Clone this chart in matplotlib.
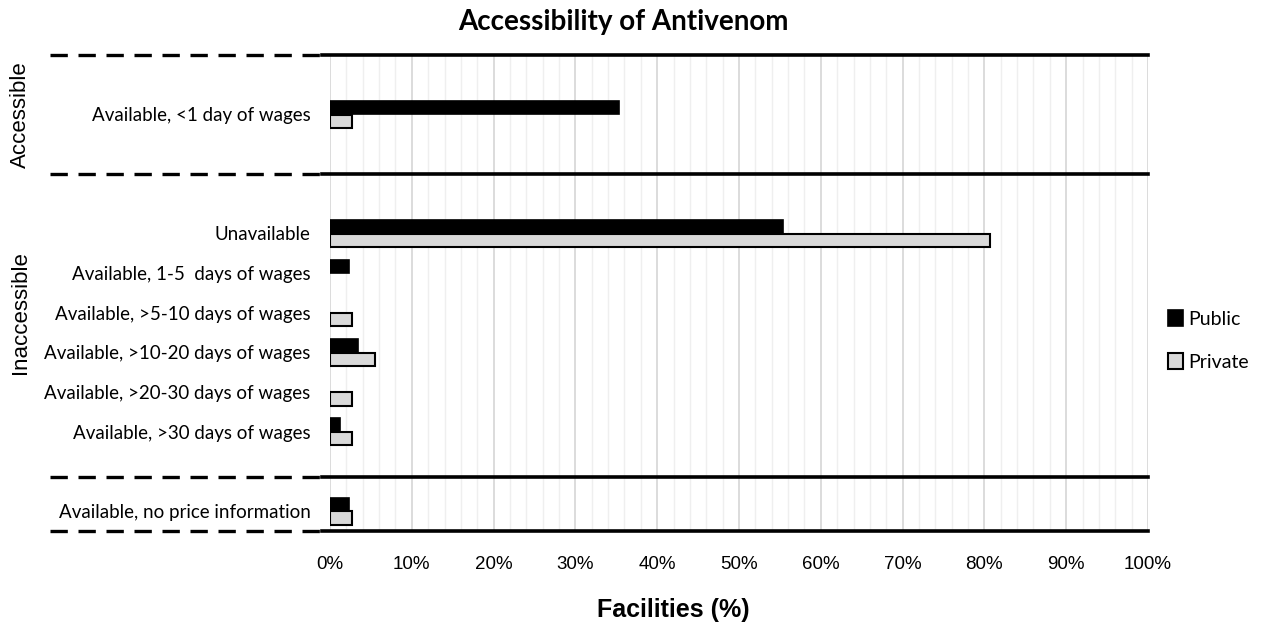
import matplotlib
matplotlib.use("Agg")
import matplotlib.pyplot as plt
from matplotlib.ticker import MultipleLocator
from matplotlib import font_manager as fm
import matplotlib.transforms as mtransforms

categories = ["Available, <1 day of wages", "Unavailable", "Available, 1-5  days of wages",
              "Available, >5-10 days of wages", "Available, >10-20 days of wages",
              "Available, >20-30 days of wages", "Available, >30 days of wages",
              "Available, no price information"]
positions = [0, 3, 4, 5, 6, 7, 8, 10]
public = [35.3, 55.4, 2.3, 0.0, 3.4, 0.0, 1.2, 2.3]
private = [2.7, 80.7, 0.0, 2.7, 5.5, 2.7, 2.7, 2.7]
group_names = ["Accessible", "Inaccessible"]
group_centers = [0, 5.0]
separators = [-1.5, 1.5, 9.15, 10.5]
xticks = list(range(0, 101, 10))
xticklabels = [f"{v}%" for v in xticks]

avail = {f.name for f in fm.fontManager.ttflist}
narrow = "Liberation Sans Narrow" if "Liberation Sans Narrow" in avail else "Liberation Sans"
cal = "Lato"

fig = plt.figure(figsize=(12.68, 6.26), dpi=100)
ax = fig.add_axes([330/1268, 1-531/626, 818/1268, (531-55)/626])

h = 0.34
ax.barh([p - h/2 for p in positions], public, height=h, color="black", edgecolor="black",
        linewidth=[1.2 if v > 0 else 0 for v in public], label="Public", zorder=3)
ax.barh([p + h/2 for p in positions], private, height=h, color="#d9d9d9", edgecolor="black",
        linewidth=[1.5 if v > 0 else 0 for v in private], label="Private", zorder=3)

ax.set_xlim(0, 100)
ax.set_ylim(10.5, -1.5)
ax.set_xticks(xticks)
ax.set_xticklabels(xticklabels, fontfamily=narrow, fontsize=13.5)
ax.xaxis.set_minor_locator(MultipleLocator(2))
ax.grid(axis="x", which="major", color="#d9d9d9", linewidth=1.3, zorder=0)
ax.grid(axis="x", which="minor", color="#efefef", linewidth=1.0, zorder=0)
ax.tick_params(axis="x", which="both", length=0, pad=18)
ax.set_yticks(positions)
ax.set_yticklabels(categories, fontfamily=cal, fontsize=13.5)
ax.tick_params(axis="y", length=0, pad=14)
for s in ax.spines.values():
    s.set_visible(False)

trans = mtransforms.blended_transform_factory(ax.transAxes, ax.transData)
for y in separators:
    ax.plot([-0.342, -0.012], [y, y], transform=trans, color="black", lw=2.4,
            linestyle=(0, (5.2, 3.2)), clip_on=False, zorder=5, dash_capstyle="butt")
    ax.plot([-0.01, 1.0], [y, y], transform=trans, color="black", lw=2.6, clip_on=False, zorder=5)

for name, c in zip(group_names, group_centers):
    ax.text(-0.378, c, name, transform=trans, rotation=90, ha="center", va="center",
            fontsize=16, fontfamily="Liberation Sans")

fig.text(623/1268, 1-22/626, "Accessibility of Antivenom", ha="center", va="center",
         fontsize=20, fontweight="bold", fontfamily=cal)
fig.text(673/1268, 1-610/626, "Facilities (%)", ha="center", va="center",
         fontsize=18, fontweight="bold", fontfamily=narrow)

leg = ax.legend(loc="center left", bbox_to_anchor=(1.003, 0.40), frameon=False,
                prop={"family": cal, "size": 14}, handlelength=0.75, handleheight=0.9,
                handletextpad=0.3, labelspacing=1.3)

fig.savefig("out.png", dpi=100)
